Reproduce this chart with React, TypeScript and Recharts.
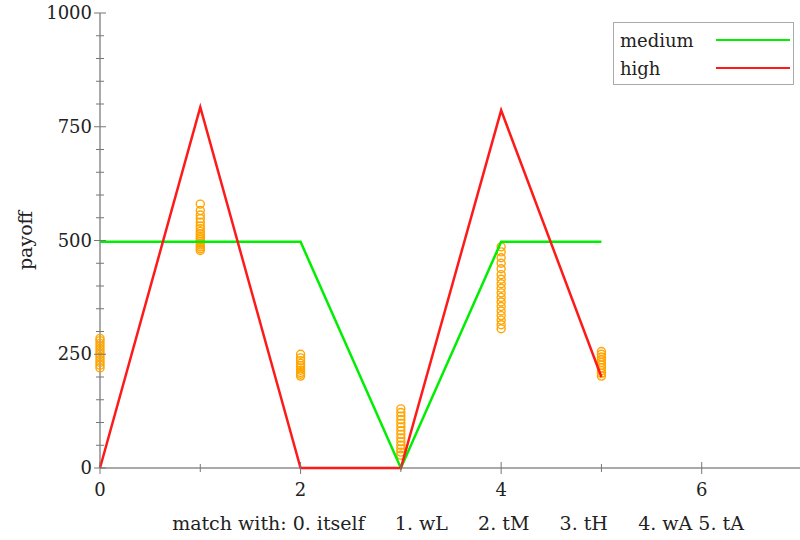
import {
  ComposedChart,
  Legend,
  Line,
  Scatter,
  XAxis,
  YAxis,
  Label,
} from "recharts";

const matches = [0, 1, 2, 3, 4, 5];
const medium = [497, 497, 497, 0, 497, 497];
const high = [0, 793, 0, 0, 786, 200];

const samples0 = [220, 226, 232, 238, 244, 250, 256, 262, 268, 274, 280, 285];
const samples1 = [478, 482, 486, 490, 494, 498, 502, 506, 510, 515, 520, 526, 532, 540, 548, 556, 566, 580];
const samples2 = [202, 206, 210, 215, 220, 225, 230, 236, 242, 250];
const samples3 = [28, 35, 42, 50, 58, 66, 74, 82, 90, 98, 106, 114, 122, 130];
const samples4 = [306, 315, 325, 335, 345, 355, 365, 375, 385, 395, 405, 415, 425, 438, 450, 462, 475, 486];
const samples5 = [202, 208, 214, 220, 226, 232, 238, 244, 250, 256];

const xTicks = [0, 1, 2, 3, 4, 5, 6];
const xLabels = [0, 2, 4, 6];
const yTicks = Array.from({ length: 21 }, (_, i) => i * 50);
const yLabels = [0, 250, 500, 750, 1000];

const xTitle = "match with: 0. itself     1. wL     2. tM     3. tH     4. wA 5. tA";

const lineData = matches.map((x, i) => ({ x, medium: medium[i], high: high[i] }));
const allSamples = [samples0, samples1, samples2, samples3, samples4, samples5];
const scatterData = allSamples.flatMap((vals, i) => vals.map((y) => ({ x: matches[i], y })));

const FONT = "DejaVu Serif";
const FS = 18;
const AXIS = "#aaaaaa";
const TICK = "#777777";
const GREEN = "#00ee00";
const RED = "#ff1a1a";

function BottomTick(props: any) {
  const { x, y, payload } = props;
  const major = xLabels.includes(payload.value);
  const h = major ? 6 : 4;
  return (
    <g>
      <line x1={x} x2={x} y1={y - h} y2={y + h} stroke={TICK} strokeWidth={1} />
      {major && (
        <text x={x} y={y + 28} textAnchor="middle" fontFamily={FONT} fontSize={FS} fill="#222">
          {payload.value}
        </text>
      )}
    </g>
  );
}

function TopTick(props: any) {
  const { x, y, payload } = props;
  const h = xLabels.includes(payload.value) ? 6 : 4;
  return <line x1={x} x2={x} y1={y - h} y2={y + h} stroke={TICK} strokeWidth={1} />;
}

function LeftTick(props: any) {
  const { x, y, payload } = props;
  const major = yLabels.includes(payload.value);
  const w = major ? 6 : 4;
  return (
    <g>
      <line x1={x - w} x2={x + w} y1={y} y2={y} stroke={TICK} strokeWidth={1} />
      {major && (
        <text x={x - 8} y={y + 6} textAnchor="end" fontFamily={FONT} fontSize={FS} fill="#222">
          {payload.value}
        </text>
      )}
    </g>
  );
}

function RightTick(props: any) {
  const { x, y, payload } = props;
  const w = yLabels.includes(payload.value) ? 6 : 3;
  return <line x1={x - w} x2={x} y1={y} y2={y} stroke={TICK} strokeWidth={1} />;
}

function YTitle(props: any) {
  const vb = props.viewBox;
  const cx = 25;
  const cy = vb.y + vb.height / 2;
  return (
    <text
      x={cx}
      y={cy}
      transform={`rotate(-90 ${cx} ${cy})`}
      textAnchor="middle"
      dominantBaseline="central"
      fontFamily={FONT}
      fontSize={19}
      fill="#222"
    >
      payoff
    </text>
  );
}

function XTitle(props: any) {
  const vb = props.viewBox;
  return (
    <text
      x={vb.x + vb.width / 2 + 8}
      y={530}
      textAnchor="middle"
      fontFamily={FONT}
      fontSize={19}
      fill="#222"
      style={{ whiteSpace: "pre" }}
    >
      {xTitle}
    </text>
  );
}

function LegendBox() {
  const rows = [
    { name: "medium", color: GREEN },
    { name: "high", color: RED },
  ];
  return (
    <div
      style={{
        width: 181,
        height: 63,
        border: "1px solid #aaa",
        background: "#fff",
        fontFamily: FONT,
        fontSize: FS,
        color: "#222",
        boxSizing: "border-box",
        paddingTop: 3,
      }}
    >
      {rows.map((r) => (
        <div key={r.name} style={{ display: "flex", alignItems: "center", height: 28 }}>
          <span style={{ marginLeft: 6, width: 96 }}>{r.name}</span>
          <span style={{ display: "inline-block", width: 74, height: 2.5, background: r.color }} />
        </div>
      ))}
    </div>
  );
}

export default function App() {
  return (
    <div style={{ position: "absolute", left: 0, top: 0, width: 800, height: 540, background: "#fff" }}>
      <ComposedChart
        width={800}
        height={540}
        data={lineData}
        margin={{ top: 13, right: 0, bottom: 0, left: 0 }}
      >
        <XAxis
          dataKey="x"
          type="number"
          domain={[0, 6.98]}
          ticks={xTicks}
          interval={0}
          height={72}
          tickSize={0}
          tickMargin={0}
          tick={BottomTick}
          axisLine={{ stroke: AXIS, strokeWidth: 2 }}
        >
          <Label content={XTitle} />
        </XAxis>
        <XAxis
          xAxisId="top"
          orientation="top"
          type="number"
          domain={[0, 6.98]}
          ticks={xTicks}
          interval={0}
          height={0}
          tickSize={0}
          tickMargin={0}
          tick={TopTick}
          axisLine={{ stroke: AXIS, strokeWidth: 2 }}
        />
        <YAxis
          type="number"
          domain={[0, 1000]}
          ticks={yTicks}
          interval={0}
          width={100}
          tickSize={0}
          tickMargin={0}
          tick={LeftTick}
          axisLine={{ stroke: AXIS, strokeWidth: 2 }}
        >
          <Label content={YTitle} />
        </YAxis>
        <YAxis
          yAxisId="right"
          orientation="right"
          type="number"
          domain={[0, 1000]}
          ticks={yTicks}
          interval={0}
          width={0}
          tickSize={0}
          tickMargin={0}
          tick={RightTick}
          axisLine={false}
        />
        <Scatter
          data={scatterData}
          dataKey="y"
          isAnimationActive={false}
          shape={(p: any) => (
            <circle cx={p.cx} cy={p.cy} r={4} fill="none" stroke="#ffa500" strokeWidth={1.4} />
          )}
        />
        <Line
          dataKey="medium"
          stroke={GREEN}
          strokeWidth={2.5}
          dot={false}
          type="linear"
          isAnimationActive={false}
          {...({ zIndex: 700 } as any)}
        />
        <Line
          dataKey="high"
          stroke={RED}
          strokeWidth={2.5}
          dot={false}
          type="linear"
          isAnimationActive={false}
          {...({ zIndex: 700 } as any)}
        />
        <Legend
          layout="vertical"
          align="center"
          verticalAlign="middle"
          wrapperStyle={{ left: 613, top: 22, width: 181 }}
          content={() => <LegendBox />}
        />
      </ComposedChart>
    </div>
  );
}
